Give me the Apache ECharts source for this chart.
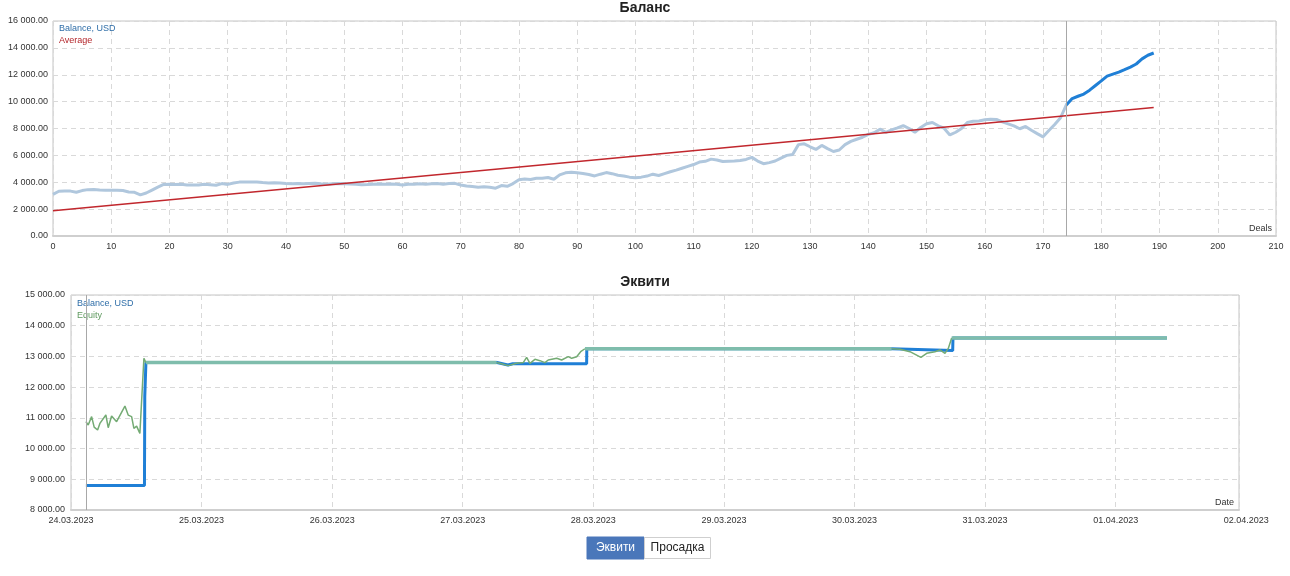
<!DOCTYPE html>
<html>
<head>
<meta charset="utf-8">
<script src="https://cdn.jsdelivr.net/npm/echarts@6/dist/echarts.min.js"></script>
<style>
html,body{margin:0;padding:0;background:#fff;}
#c{width:1290px;height:576px;}
</style>
</head>
<body>
<div id="c"></div>
<script>
// ---------- DATA ----------
const chartTitles = ['Баланс', 'Эквити'];
const buttonLabels = ['Эквити', 'Просадка'];

// Balance per deal (deals 0..189)
const dealBalance = [
 3100,3330,3350,3340,3260,3380,3450,3460,3420,3400,
 3400,3410,3380,3280,3250,3060,3200,3420,3640,3840,
 3850,3830,3850,3800,3790,3800,3850,3820,3780,3900,
 3840,3950,4010,4020,4010,4020,3980,3950,3960,3940,
 3900,3890,3900,3880,3910,3930,3890,3860,3880,3900,
 3880,3870,3850,3820,3830,3850,3870,3860,3870,3850,
 3800,3850,3860,3890,3860,3880,3900,3850,3900,3920,
 3800,3720,3680,3630,3660,3620,3560,3750,3700,3900,
 4180,4240,4200,4300,4290,4350,4220,4550,4700,4750,
 4700,4650,4580,4470,4600,4720,4640,4520,4460,4380,
 4340,4380,4460,4600,4500,4640,4780,4900,5040,5180,
 5320,5500,5560,5720,5660,5540,5560,5580,5620,5700,
 5850,5580,5380,5460,5580,5800,6000,6060,6800,6860,
 6640,6440,6740,6500,6290,6400,6800,7040,7200,7350,
 7560,7680,7950,7720,7900,8050,8220,8000,7720,8080,
 8350,8450,8200,8020,7520,7720,8000,8450,8540,8560,
 8650,8690,8670,8500,8350,8200,7980,8150,7870,7620,
 7380,7850,8300,8800,9750,10230,10400,10560,10850,11200,
 11550,11900,12050,12200,12380,12570,12800,13180,13450,13620
];
const splitDeal = 174;               // in-sample / forward boundary
const averageDeals = [0, 189];
const averageValues = [1880, 9560];
const dealTicks = { min: 0, max: 210, step: 10 };
const balanceTicks = { min: 0, max: 16000, step: 2000 };

// Equity chart: x in hours since 24.03.2023 00:00
const dateLabels = ['24.03.2023','25.03.2023','26.03.2023','27.03.2023','28.03.2023','29.03.2023','30.03.2023','31.03.2023','01.04.2023','02.04.2023'];
const equityTicks = { min: 8000, max: 15000, step: 1000 };
const hourAxisMax = 214.67;
const testStartHour = 2.74;

const balanceHours  = [2.74,5.62,5.81,6.0,13.5,13.56,13.62,13.77,78.3,80.3,81.2,94.77,94.8,150.8,150.9,162.05,162.1,201.43];
const balanceValues = [8800,8800,8740,8800,8800,11700,11750,12800,12800,12720,12760,12760,13250,13250,13190,13190,13600,13600];

// floating (open-position) equity segments
const equityFloat1Hours  = [2.74,3.16,3.79,4.26,4.89,5.31,6.41,6.84,7.46,8.38,9.91,10.51,11.14,11.56,12.06,12.66,13.40,13.77];
const equityFloat1Values = [10875,10767,11040,10700,10604,10820,11093,10680,11060,10875,11385,11090,11040,10660,10730,10496,12940,12800];
const equityFloat2Hours  = [78.23,79.44,80.36,81.91,83.12,83.74,84.35,85.27,86.19,87.11,87.71,89.26,90.18,91.39,92.02,92.94,93.67,94.46];
const equityFloat2Values = [12800,12743,12700,12775,12800,12970,12775,12906,12862,12797,12884,12938,12884,12992,12938,12992,13154,13250];
const equityFloat3Hours  = [150.83,152.36,154.19,156.21,157.27,158.79,159.71,160.63,161.24,161.86];
const equityFloat3Values = [13250,13232,13154,12970,13100,13154,13210,13100,13260,13600];
// flat equity (no open positions) segments: [startHour, endHour], value
const equityFlatHours  = [[13.77,78.23],[94.46,150.83],[161.86,201.43]];
const equityFlatValues = [12800,13250,13600];

// ---------- BUILD ----------
const FONT = '"Liberation Sans", Arial, sans-serif';
const zip = (xs, ys) => xs.map((x, i) => [x, ys[i]]);
const fmtNum = v => v.toFixed(2).replace(/\B(?=(\d{3})+(?!\d))/g, ' ');

const lightBal = dealBalance.slice(0, splitDeal + 1).map((v, i) => [i, v]);
const darkBal  = dealBalance.slice(splitDeal).map((v, i) => [i + splitDeal, v]);

function withBreaks(segs) {
  const out = [];
  segs.forEach((s, k) => { if (k) out.push([s[0][0], '-']); s.forEach(p => out.push(p)); });
  return out;
}
const eqFloat = withBreaks([
  zip(equityFloat1Hours, equityFloat1Values),
  zip(equityFloat2Hours, equityFloat2Values),
  zip(equityFloat3Hours, equityFloat3Values)
]);
const eqFlat = withBreaks(equityFlatHours.map((h, i) => [[h[0], equityFlatValues[i]], [h[1], equityFlatValues[i]]]));

const C_LIGHT = '#b0c7dd', C_DARK = '#1f7fd6', C_AVG = '#c1272d';
const C_EQ = '#74ab74', C_EQFLAT = '#7fbdac', C_BAL = '#1f7fd6';

const gridX = [{ left: 53, right: 14, top: 21, bottom: 340 }, { left: 71, right: 51, top: 295, bottom: 66 }];
const splitLine = { show: true, lineStyle: { color: '#d9d9d9', type: [5, 4], width: 1 } };
const axisLabel = { color: '#333', fontSize: 9, fontFamily: FONT };

const vline = (x) => ({
  silent: true, symbol: 'none', animation: false,
  label: { show: false },
  lineStyle: { color: '#a8a8a8', width: 1, type: 'solid' },
  data: [{ xAxis: x }]
});

const option = {
  animation: false,
  title: [
    { text: chartTitles[0], left: 'center', top: 1, padding: 0, textStyle: { fontSize: 14, fontWeight: 'bold', color: '#222', fontFamily: FONT } },
    { text: chartTitles[1], left: 'center', top: 275, padding: 0, textStyle: { fontSize: 14, fontWeight: 'bold', color: '#222', fontFamily: FONT } }
  ],
  legend: [
    { left: 58, top: 24, orient: 'vertical', itemWidth: 0, itemHeight: 0, itemGap: 3, padding: 0, selectedMode: false,
      textStyle: { fontSize: 9, fontFamily: FONT, padding: [0,0,0,-5] },
      data: [{ name: 'Balance, USD', textStyle: { color: '#2f6ea8' } }, { name: 'Average', textStyle: { color: '#b3262b' } }] },
    { left: 76, top: 299, orient: 'vertical', itemWidth: 0, itemHeight: 0, itemGap: 3, padding: 0, selectedMode: false,
      textStyle: { fontSize: 9, fontFamily: FONT, padding: [0,0,0,-5] },
      data: [{ name: 'Balance, USD ', textStyle: { color: '#2f6ea8' } }, { name: 'Equity', textStyle: { color: '#5f9a5f' } }] }
  ],
  grid: gridX.map(g => Object.assign({ show: true, borderColor: '#c4c4c4', borderWidth: 1 }, g)),
  xAxis: [
    { type: 'value', gridIndex: 0, min: dealTicks.min, max: dealTicks.max, interval: dealTicks.step,
      axisLine: { show: true, lineStyle: { color: '#cfcfcf', width: 2 } }, axisTick: { show: false },
      axisLabel: Object.assign({ margin: 6 }, axisLabel), splitLine },
    { type: 'value', gridIndex: 1, min: 0, max: hourAxisMax, interval: 24,
      axisLine: { show: true, lineStyle: { color: '#cfcfcf', width: 2 } }, axisTick: { show: false },
      axisLabel: Object.assign({ margin: 6, showMaxLabel: false,
        formatter: v => (Math.abs(v / 24 - Math.round(v / 24)) < 1e-6 ? dateLabels[Math.round(v / 24)] : '') }, axisLabel),
      splitLine }
  ],
  yAxis: [
    { type: 'value', gridIndex: 0, min: balanceTicks.min, max: balanceTicks.max, interval: balanceTicks.step,
      axisLine: { show: false }, axisTick: { show: false },
      axisLabel: Object.assign({ margin: 5, formatter: fmtNum }, axisLabel), splitLine },
    { type: 'value', gridIndex: 1, min: equityTicks.min, max: equityTicks.max, interval: equityTicks.step,
      axisLine: { show: false }, axisTick: { show: false },
      axisLabel: Object.assign({ margin: 6, formatter: fmtNum }, axisLabel), splitLine }
  ],
  series: [
    { name: 'Balance, USD', type: 'line', xAxisIndex: 0, yAxisIndex: 0, data: lightBal, showSymbol: false,
      lineStyle: { color: C_LIGHT, width: 3 }, itemStyle: { color: C_LIGHT }, markLine: vline(splitDeal), z: 3 },
    { name: 'Balance, USD', type: 'line', xAxisIndex: 0, yAxisIndex: 0, data: darkBal, showSymbol: false,
      lineStyle: { color: C_DARK, width: 3 }, itemStyle: { color: C_DARK }, z: 3 },
    { name: 'Average', type: 'line', xAxisIndex: 0, yAxisIndex: 0, data: zip(averageDeals, averageValues), showSymbol: false,
      lineStyle: { color: C_AVG, width: 1.5 }, itemStyle: { color: C_AVG }, z: 4 },

    { name: 'Balance, USD ', type: 'line', xAxisIndex: 1, yAxisIndex: 1, data: zip(balanceHours, balanceValues), showSymbol: false,
      lineStyle: { color: C_BAL, width: 3 }, itemStyle: { color: C_BAL }, markLine: vline(testStartHour), z: 3 },
    { name: 'Equity', type: 'line', xAxisIndex: 1, yAxisIndex: 1, data: eqFloat, showSymbol: false, connectNulls: false,
      lineStyle: { color: C_EQ, width: 1.5 }, itemStyle: { color: C_EQ }, z: 4 },
    { name: 'Equity', type: 'line', xAxisIndex: 1, yAxisIndex: 1, data: eqFlat, showSymbol: false, connectNulls: false,
      lineStyle: { color: C_EQFLAT, width: 3.5 }, itemStyle: { color: C_EQFLAT }, z: 5 }
  ]
};

const chart = echarts.init(document.getElementById('c'), null, { renderer: 'canvas' });
chart.setOption(option);

// extra graphics: axis captions, last date label (beyond plot edge), buttons
const lastX = chart.convertToPixel({ xAxisIndex: 1 }, 24 * (dateLabels.length - 1));
chart.setOption({
  graphic: [
    { type: 'text', right: 18, top: 224, style: { text: 'Deals', fontSize: 9, fontFamily: FONT, fill: '#333' } },
    { type: 'text', right: 56, top: 498, style: { text: 'Date', fontSize: 9, fontFamily: FONT, fill: '#333' } },
    { type: 'text', x: lastX, y: 516, style: { text: dateLabels[dateLabels.length - 1], fontSize: 9, fontFamily: FONT, fill: '#333', align: 'center' } },
    { type: 'rect', shape: { x: 587, y: 537, width: 57, height: 22 }, style: { fill: '#4a77ba', stroke: '#4a77ba' } },
    { type: 'text', x: 615.5, y: 548, style: { text: buttonLabels[0], fontSize: 12, fontFamily: FONT, fill: '#fff', align: 'center', verticalAlign: 'middle' } },
    { type: 'rect', shape: { x: 644.5, y: 537.5, width: 66, height: 21 }, style: { fill: '#fff', stroke: '#cfcfcf', lineWidth: 1 } },
    { type: 'text', x: 677.5, y: 548, style: { text: buttonLabels[1], fontSize: 12, fontFamily: FONT, fill: '#222', align: 'center', verticalAlign: 'middle' } }
  ]
});
</script>
</body>
</html>
